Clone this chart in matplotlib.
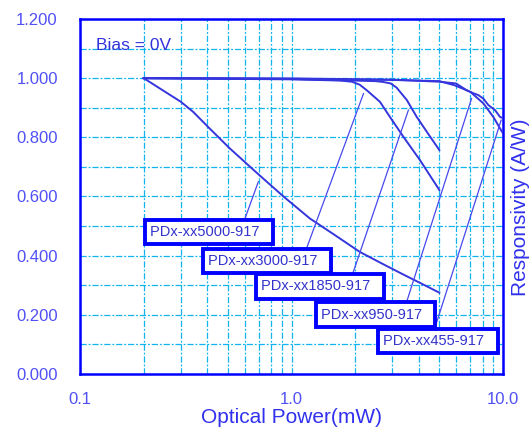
import matplotlib
matplotlib.use("Agg")
import matplotlib.pyplot as plt
from matplotlib.ticker import FixedLocator, MultipleLocator, FixedFormatter

plt.rcParams['font.family'] = ['Liberation Sans', 'DejaVu Sans']

# curves: optical power (mW) vs responsivity (A/W)
x_5000 = [0.2, 0.3, 0.343, 0.41, 0.51, 0.69, 0.92, 1.22, 1.6, 2.1, 2.7, 3.3, 4.0, 5.0]
y_5000 = [1.0, 0.92, 0.886, 0.83, 0.763, 0.678, 0.599, 0.526, 0.47, 0.413, 0.372, 0.34, 0.31, 0.275]

x_3000 = [0.2, 1.0, 1.7, 1.93, 2.1, 2.27, 2.62, 2.92, 3.38, 4.05, 5.0]
y_3000 = [1.0, 0.996, 0.992, 0.988, 0.978, 0.959, 0.92, 0.869, 0.802, 0.723, 0.622]

x_1850 = [0.2, 1.0, 2.5, 2.72, 2.95, 3.14, 3.51, 3.91, 4.36, 5.0]
y_1850 = [1.0, 0.997, 0.99, 0.987, 0.982, 0.968, 0.926, 0.869, 0.819, 0.757]

x_950 = [0.2, 1.0, 3.0, 5.0, 5.9, 7.0, 8.07, 9.0, 10.0]
y_950 = [1.0, 0.998, 0.994, 0.99, 0.976, 0.954, 0.915, 0.869, 0.813]

x_455 = [0.2, 1.0, 3.0, 5.0, 6.0, 6.74, 7.3, 7.64, 8.07, 8.53, 9.17, 9.68, 10.0]
y_455 = [1.0, 0.999, 0.995, 0.988, 0.982, 0.959, 0.948, 0.943, 0.931, 0.909, 0.892, 0.869, 0.865]

names = ["PDx-xx5000-917", "PDx-xx3000-917", "PDx-xx1850-917", "PDx-xx950-917", "PDx-xx455-917"]
curves = [(x_5000, y_5000), (x_3000, y_3000), (x_1850, y_1850), (x_950, y_950), (x_455, y_455)]

# label boxes (text left, text centre) and leader lines (box end -> curve point)
label_pos = [(0.214, 0.480), (0.404, 0.383), (0.718, 0.296), (1.379, 0.201), (2.717, 0.111)]
leaders = [((0.603, 0.526), (0.697, 0.650)),
           ((1.18, 0.426), (2.19, 0.948)),
           ((1.945, 0.338), (3.57, 0.892)),
           ((3.5, 0.243), (7.1, 0.931)),
           ((4.76, 0.155), (9.8, 0.858))]

x_ticks = [0.1, 1.0, 10.0]
x_ticklabels = ["0.1", "1.0", "10.0"]
y_ticks = [0.0, 0.2, 0.4, 0.6, 0.8, 1.0, 1.2]

line_col = '#3535DD'
spine_col = '#0000FF'
grid_col = '#12B4F0'
tick_col = '#5050F5'
label_col = '#3030EE'

fig = plt.figure(figsize=(5.31, 4.36), dpi=100)
ax = fig.add_axes([80 / 531, 62 / 436, 423 / 531, 355 / 436])

ax.set_xscale('log')
ax.set_xlim(0.1, 10.0)
ax.set_ylim(0.0, 1.2)

ax.xaxis.set_major_locator(FixedLocator(x_ticks))
ax.xaxis.set_major_formatter(FixedFormatter(x_ticklabels))
ax.xaxis.set_minor_locator(FixedLocator([m * d for d in (0.1, 1.0) for m in range(2, 10)]))
ax.xaxis.set_minor_formatter(FixedFormatter([]))
ax.yaxis.set_major_locator(FixedLocator(y_ticks))
ax.yaxis.set_minor_locator(MultipleLocator(0.1))
ax.yaxis.set_major_formatter(matplotlib.ticker.FormatStrFormatter('%.3f'))

ax.grid(True, which='both', color=grid_col, linestyle=(0, (5, 1.5, 1.5, 1.5)), linewidth=0.9)
ax.tick_params(which='both', length=0)
ax.tick_params(axis='x', pad=13, labelsize=12, labelcolor=tick_col)
ax.tick_params(axis='y', pad=16, labelsize=12, labelcolor=tick_col)

for s in ax.spines.values():
    s.set_color(spine_col)
    s.set_linewidth(1.8)

for xs, ys in curves:
    ax.plot(xs, ys, color=line_col, linewidth=1.4, zorder=3)

for (p0, p1) in leaders:
    ax.plot([p0[0], p1[0]], [p0[1], p1[1]], color='#4848EE', linewidth=0.9, zorder=3)

for name, (tx, ty) in zip(names, label_pos):
    ax.text(tx, ty, name + "  ", ha='left', va='center', fontsize=10.5, color='#3333CC', zorder=5,
            bbox=dict(boxstyle='square,pad=0.35', facecolor='white', edgecolor=spine_col, linewidth=2.8))

ax.text(0.119, 1.111, "Bias = 0V", ha='left', va='center', fontsize=12.5, color='#3333DD', zorder=4)

ax.set_xlabel("Optical Power(mW)", fontsize=15, color=label_col, labelpad=1)
ax.set_ylabel("Responsivity (A/W)", fontsize=15, color=label_col, labelpad=6)
ax.yaxis.set_label_position('right')
ax.yaxis.label.set_y(0.47)

fig.savefig("out.png", dpi=100)
